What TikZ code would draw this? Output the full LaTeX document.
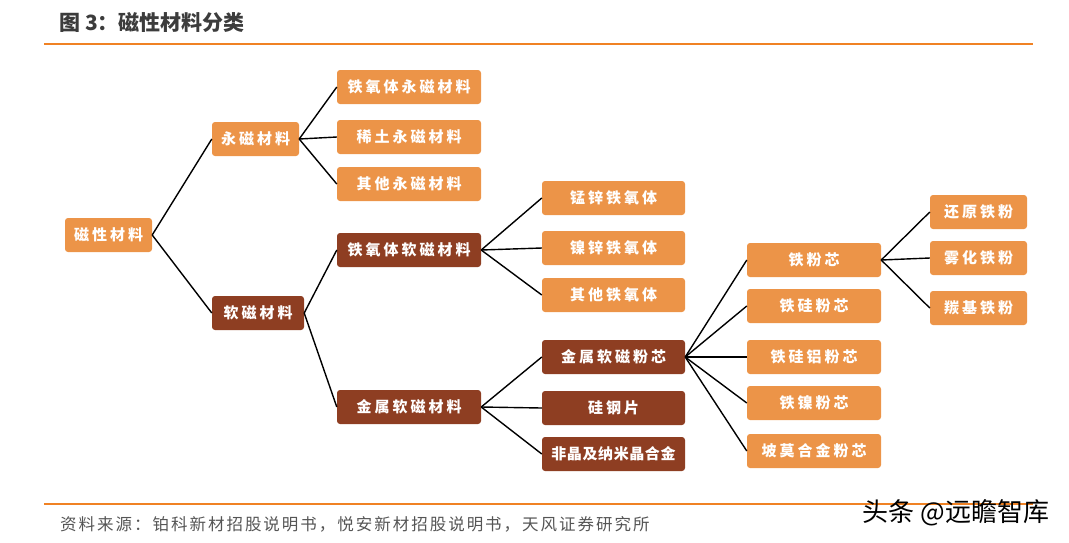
\documentclass[tikz,border=0pt]{standalone}
\usepackage{fontspec}
\setmainfont{Noto Sans CJK SC}
\newfontfamily\boxfont[LetterSpace=20]{Noto Sans CJK SC}
\newfontfamily\srcfont[LetterSpace=12]{Noto Sans CJK SC}
\usepackage{tikz}
\definecolor{softorange}{HTML}{EC9448}
\definecolor{rustbrown}{HTML}{8E3E22}
\definecolor{ruleorange}{HTML}{F08224}
\definecolor{titlegray}{HTML}{3C3C3C}
\definecolor{srcgray}{HTML}{555555}
\tikzset{
every picture/.style={x=1pt, y=-1pt},
%%%%%%%%%% Node styles
lightbox/.style={fill=softorange, rounded corners=3pt, minimum height=34pt,
                 inner sep=0pt, text=white, font=\boxfont\bfseries\fontsize{15}{15}\selectfont},
darkbox/.style={lightbox, fill=rustbrown},
tightbox/.style={darkbox, font=\boxfont\bfseries\fontsize{15}{15}\selectfont\addfontfeature{LetterSpace=4}},
%%%%%%%%%% Line styles
branch/.style={line width=1.4pt, black},
rule/.style={line width=2pt, ruleorange}
}

\begin{document}
\begin{tikzpicture}
\useasboundingbox (0,0) rectangle (1069,542);
%% heading and rules
\node[anchor=west, inner sep=0, text=titlegray, font=\bfseries\fontsize{21}{21}\selectfont] (title) at (59,23) {图 3：磁性材料分类};
\draw[rule] (44,44) -- (1033,44);
\draw[rule] (44,504) -- (1033,504);
\node[anchor=west, inner sep=0, text=srcgray, font=\srcfont\fontsize{16.5}{16.5}\selectfont] (src) at (60,524) {资料来源：铂科新材招股说明书，悦安新材招股说明书，天风证券研究所};
%% level 1 and 2
\node[lightbox, minimum width=87pt] (a) at (108.5,235) {磁性材料};
\node[lightbox, minimum width=87pt] (b1) at (255.5,139) {永磁材料};
\node[darkbox, minimum width=92pt] (b2) at (258,313) {软磁材料};
\draw[branch] (a.east) -- (b1.west);
\draw[branch] (a.east) -- (b2.west);
%% permanent magnets
\node[lightbox, minimum width=144pt] (c1) at (409,87) {铁氧体永磁材料};
\node[lightbox, minimum width=144pt] (c2) at (409,137) {稀土永磁材料};
\node[lightbox, minimum width=144pt] (c3) at (409,184) {其他永磁材料};
\foreach \n in {c1,c2,c3}
  \draw[branch] (b1.east) -- (\n.west);
%% soft magnets
\node[darkbox, minimum width=144pt] (c4) at (409,250) {铁氧体软磁材料};
\node[darkbox, minimum width=144pt] (c5) at (409,407) {金属软磁材料};
\draw[branch] (b2.east) -- (c4.west);
\draw[branch] (b2.east) -- (c5.west);
%% ferrites
\node[lightbox, minimum width=143pt] (d1) at (613.5,198) {锰锌铁氧体};
\node[lightbox, minimum width=143pt] (d2) at (613.5,248) {镍锌铁氧体};
\node[lightbox, minimum width=143pt] (d3) at (613.5,295) {其他铁氧体};
\foreach \n in {d1,d2,d3}
  \draw[branch] (c4.east) -- (\n.west);
%% metallic
\node[darkbox, minimum width=143pt] (d4) at (613.5,357) {金属软磁粉芯};
\node[darkbox, minimum width=143pt] (d5) at (613.5,408) {硅钢片};
\node[tightbox, minimum width=143pt] (d6) at (613.5,454) {非晶及纳米晶合金};
\foreach \n in {d4,d5,d6}
  \draw[branch] (c5.east) -- (\n.west);
%% powder cores
\node[lightbox, minimum width=134pt] (e1) at (814,260) {铁粉芯};
\node[lightbox, minimum width=134pt] (e2) at (814,306) {铁硅粉芯};
\node[lightbox, minimum width=134pt] (e3) at (814,357) {铁硅铝粉芯};
\node[lightbox, minimum width=134pt] (e4) at (814,403) {铁镍粉芯};
\node[lightbox, minimum width=134pt] (e5) at (814,451) {坡莫合金粉芯};
\foreach \n in {e1,e2,e3,e4,e5}
  \draw[branch] (d4.east) -- (\n.west);
%% iron powders
\node[lightbox, minimum width=97pt] (f1) at (978.5,212) {还原铁粉};
\node[lightbox, minimum width=97pt] (f2) at (978.5,258) {雾化铁粉};
\node[lightbox, minimum width=97pt] (f3) at (978.5,308) {羰基铁粉};
\foreach \n in {f1,f2,f3}
  \draw[branch] (e1.east) -- (\n.west);
%% watermark
\node[inner sep=0, text=black, font=\fontsize{26}{26}\selectfont] (wm) at (956,513) {头条 @远瞻智库};
\end{tikzpicture}
\end{document}
